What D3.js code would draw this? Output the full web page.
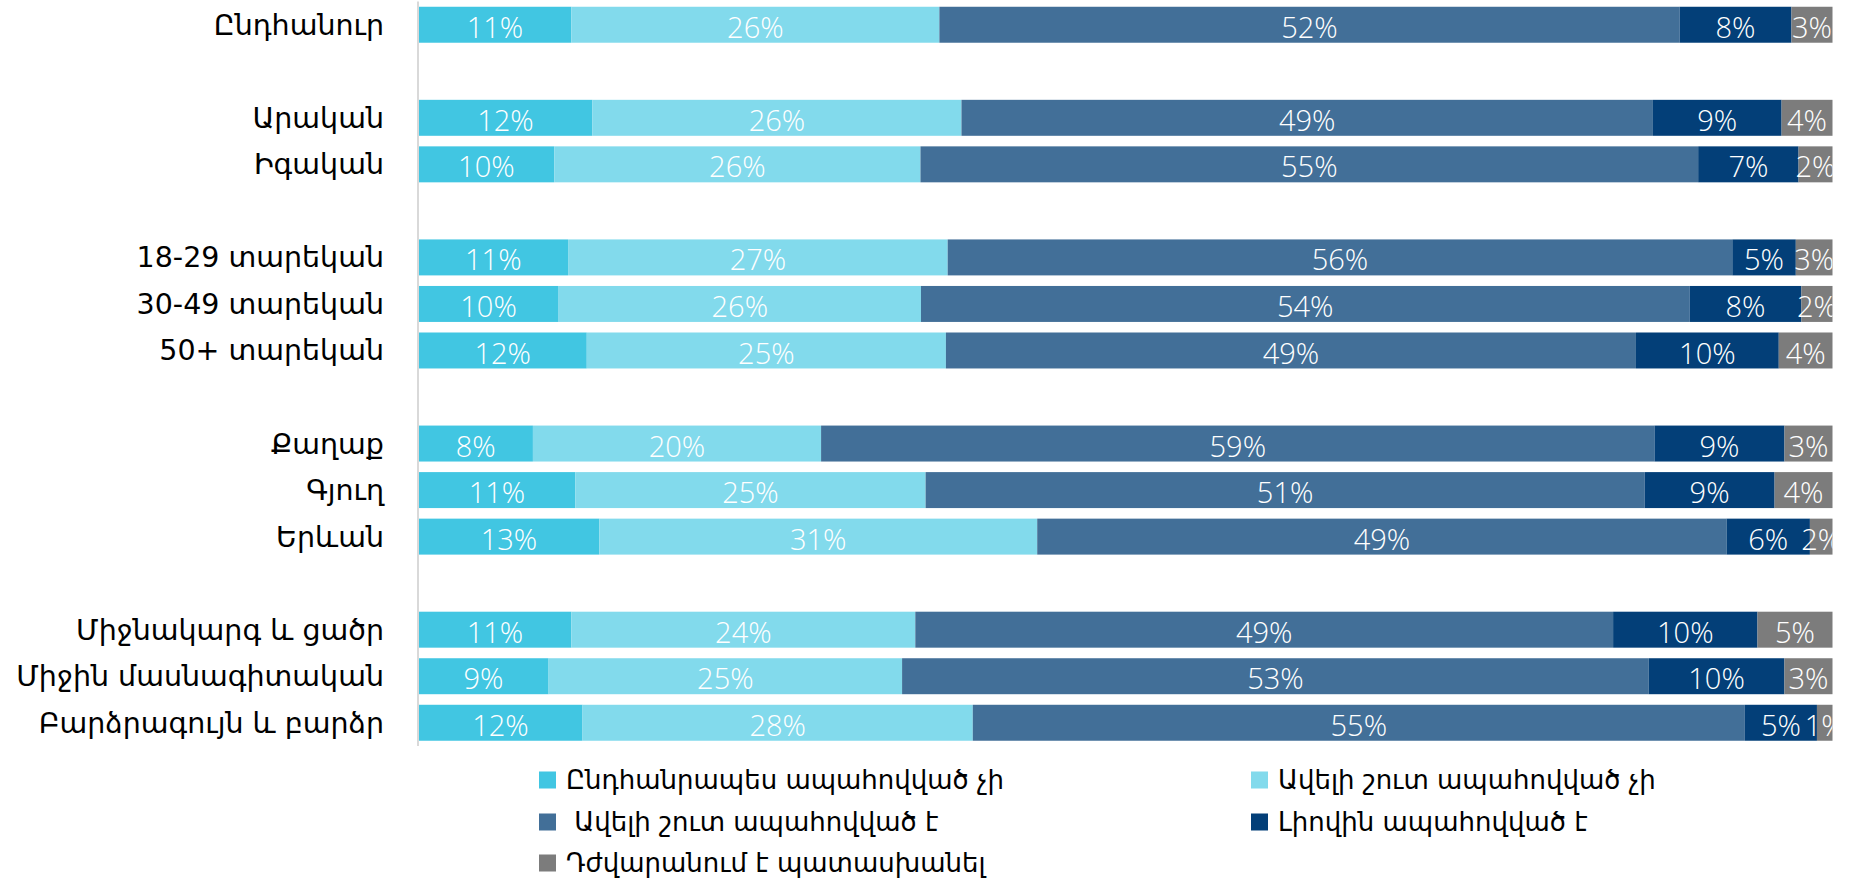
<!DOCTYPE html>
<html>
<head>
<meta charset="utf-8" />
<title></title>
<script src="https://cdn.jsdelivr.net/npm/d3@7"></script>
<style>
    body { margin: 0; background: #fff; }
    .cat { font-family: "DejaVu Sans", sans-serif; font-size: 28.5px; fill: #000; }
    .val { font-family: "Open Sans", sans-serif; font-weight: 300; font-size: 29px; fill: #fff; }
    .leg { font-family: "DejaVu Sans", sans-serif; font-size: 26px; fill: #000; white-space: pre; }
</style>
</head>
<body>
<div id="chart"></div>
<script>
    // rows, top to bottom, split into groups with an empty slot between them
    const categories = ["Ընդհանուր", "Արական", "Իգական", "18-29 տարեկան", "30-49 տարեկան", "50+ տարեկան",
        "Քաղաք", "Գյուղ", "Երևան", "Միջնակարգ և ցածր", "Միջին մասնագիտական", "Բարձրագույն և բարձր"];
    const groupSizes = [1, 2, 3, 3, 3];

    const seriesNames = ["Ընդհանրապես ապահովված չի", "Ավելի շուտ ապահովված չի", " Ավելի շուտ ապահովված է",
        "Լիովին ապահովված է", "Դժվարանում է պատասխանել"];

    // percentages per row, same order as categories
    const notAtAll = [10.8, 12.3, 9.6, 10.6, 9.9, 11.9, 8.1, 11.1, 12.8, 10.8, 9.2, 11.6];
    const ratherNot = [26.0, 26.1, 25.9, 26.9, 25.6, 25.4, 20.4, 24.8, 31.0, 24.3, 25.0, 27.6];
    const ratherYes = [52.3, 48.9, 55.0, 55.6, 54.3, 48.8, 59.0, 50.9, 48.8, 49.3, 52.8, 54.6];
    const fully = [7.9, 9.1, 7.1, 4.5, 7.9, 10.1, 9.2, 9.2, 5.9, 10.2, 9.6, 5.1];
    const hardToSay = [2.9, 3.6, 2.4, 2.6, 2.2, 3.8, 3.4, 4.1, 1.6, 5.3, 3.4, 1.1];

    const colors = ["#41c6e2", "#82daec", "#426f98", "#033f78", "#7c7c7c"];

    const width = 1858, height = 880;
    const x0 = 418.5, x1 = 1832.5;

    const seriesValues = [notAtAll, ratherNot, ratherYes, fully, hardToSay];
    const rows = categories.map((c, i) => {
        const r = { cat: c };
        seriesNames.forEach((s, k) => r[s] = seriesValues[k][i]);
        return r;
    });

    // band domain with spacer slots between groups
    const slots = [];
    let ci = 0;
    groupSizes.forEach((n, g) => {
        if (g > 0) slots.push("__gap" + g);
        for (let j = 0; j < n; j++) slots.push(categories[ci++]);
    });

    const y = d3.scaleBand()
        .domain(slots)
        .range([1.5, 746])
        .paddingInner(0.227)
        .paddingOuter(0.113);

    const x = d3.scaleLinear().domain([0, 1]).range([x0, x1]);
    const color = d3.scaleOrdinal(seriesNames, colors);

    const stacked = d3.stack()
        .keys(seriesNames)
        .offset(d3.stackOffsetExpand)(rows);

    const svg = d3.select("#chart").append("svg")
        .attr("width", width)
        .attr("height", height);

    svg.append("defs").append("clipPath")
        .attr("id", "plot-clip")
        .append("rect")
        .attr("x", x0).attr("y", 0)
        .attr("width", x1 - x0).attr("height", 760);

    const layer = svg.append("g")
        .selectAll("g")
        .data(stacked)
        .join("g")
        .attr("fill", d => color(d.key));

    layer.selectAll("rect")
        .data(d => d)
        .join("rect")
        .attr("x", d => x(d[0]))
        .attr("y", d => y(d.data.cat))
        .attr("width", d => x(d[1]) - x(d[0]))
        .attr("height", y.bandwidth());

    svg.append("g")
        .attr("clip-path", "url(#plot-clip)")
        .selectAll("g")
        .data(stacked)
        .join("g")
        .selectAll("text")
        .data(d => d.map(p => ({ p, key: d.key })))
        .join("text")
        .attr("class", "val")
        .attr("x", d => (x(d.p[0]) + x(d.p[1])) / 2)
        .attr("y", d => y(d.p.data.cat) + y.bandwidth() / 2)
        .attr("dy", "0.45em")
        .attr("text-anchor", "middle")
        .text(d => Math.round(d.p.data[d.key]) + "%");

    // category axis: just the vertical line and labels
    svg.append("line")
        .attr("x1", x0 - 0.5).attr("x2", x0 - 0.5)
        .attr("y1", y.range()[0]).attr("y2", y.range()[1])
        .attr("stroke", "#d9d9d9")
        .attr("stroke-width", 2);

    svg.append("g")
        .selectAll("text")
        .data(categories)
        .join("text")
        .attr("class", "cat")
        .attr("x", 384)
        .attr("y", d => y(d) + y.bandwidth() / 2)
        .attr("dy", "0.35em")
        .attr("text-anchor", "end")
        .text(d => d);

    // legend, two columns
    const legCols = [539, 1251];
    const legRows = [780, 822, 863];
    const leg = svg.append("g")
        .selectAll("g")
        .data(seriesNames)
        .join("g")
        .attr("transform", (d, i) => `translate(${legCols[i % 2]},${legRows[Math.floor(i / 2)]})`);

    leg.append("rect")
        .attr("x", 0).attr("y", -8.5)
        .attr("width", 17).attr("height", 17)
        .attr("fill", d => color(d));

    leg.append("text")
        .attr("class", "leg")
        .attr("x", 27)
        .attr("dy", "0.35em")
        .text(d => d);
</script>
</body>
</html>
